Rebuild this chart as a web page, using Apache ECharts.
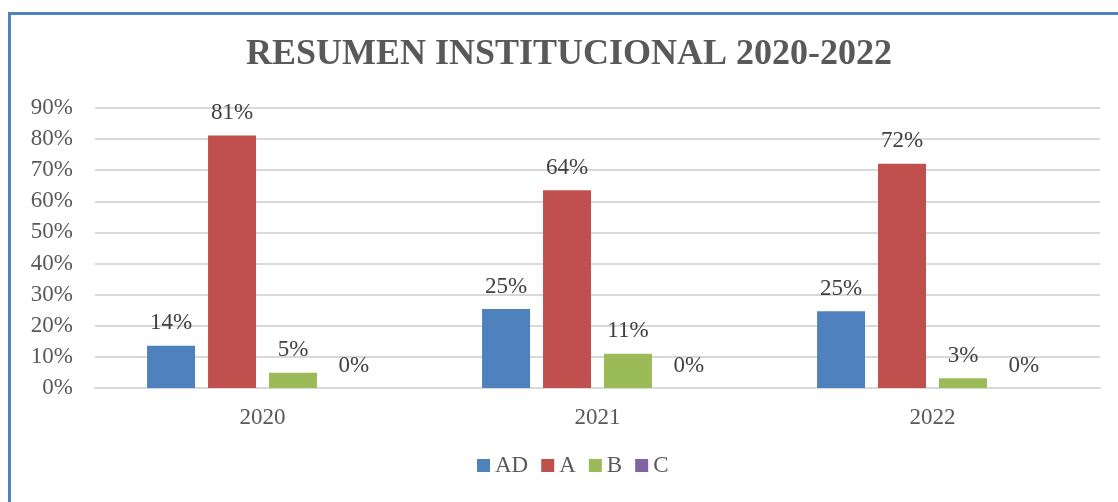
<!DOCTYPE html>
<html><head><meta charset="utf-8">
<script src="https://cdn.jsdelivr.net/npm/echarts@6/dist/echarts.min.js"></script>
<style>html,body{margin:0;padding:0;background:#fff}#c{width:1118px;height:502px}</style>
</head><body><div id="c"></div>
<script>
const categories = ['2020', '2021', '2022'];
const seriesNames = ['AD', 'A', 'B', 'C'];
const valuesAD = [13.6, 25.4, 24.7];
const valuesA = [81.2, 63.6, 72.1];
const valuesB = [4.9, 11.0, 3.1];
const valuesC = [0, 0, 0];
const colors = ['#4F81BD', '#C0504D', '#9BBB59', '#8064A2'];
const yTicks = [0, 10, 20, 30, 40, 50, 60, 70, 80, 90];

const allValues = [valuesAD, valuesA, valuesB, valuesC];
const font = 'Liberation Serif';
const chart = echarts.init(document.getElementById('c'));
chart.setOption({
  animation: false,
  graphic: [{type: 'rect', left: 7, top: 11, shape: {width: 1200, height: 600},
    style: {fill: 'none', stroke: '#4F81BD', lineWidth: 3}, z: -1}],
  title: {text: 'RESUMEN INSTITUCIONAL 2020-2022', left: 241, top: 32,
    textStyle: {fontFamily: font, fontWeight: 'bold', fontSize: 36, color: '#595959'}},
  legend: {bottom: 20, left: 472, itemWidth: 13, itemHeight: 13, itemGap: 13,
    icon: 'rect', textStyle: {fontFamily: font, fontSize: 23, color: '#595959'}},
  grid: {left: 95, right: 18, top: 108, bottom: 114},
  xAxis: {type: 'category', data: categories,
    axisLine: {show: true, lineStyle: {color: '#D9D9D9', width: 2}}, axisTick: {show: false},
    axisLabel: {fontFamily: font, fontSize: 23, color: '#595959', margin: 18}},
  yAxis: {type: 'value', min: yTicks[0], max: yTicks[yTicks.length - 1], interval: 10,
    axisLine: {show: false}, axisTick: {show: false},
    splitLine: {lineStyle: {color: '#D9D9D9', width: 2}},
    axisLabel: {fontFamily: font, fontSize: 23, color: '#595959', margin: 22, formatter: '{value}%'}},
  series: seriesNames.map((n, i) => ({
    name: n, type: 'bar', data: allValues[i], barWidth: 48, barGap: '27%',
    itemStyle: {color: colors[i]},
    label: {show: true, position: 'top', distance: 11, fontFamily: font, fontSize: 23, color: '#404040',
      formatter: p => Math.round(p.value) + '%'}
  })),
  color: colors
});
</script></body></html>
